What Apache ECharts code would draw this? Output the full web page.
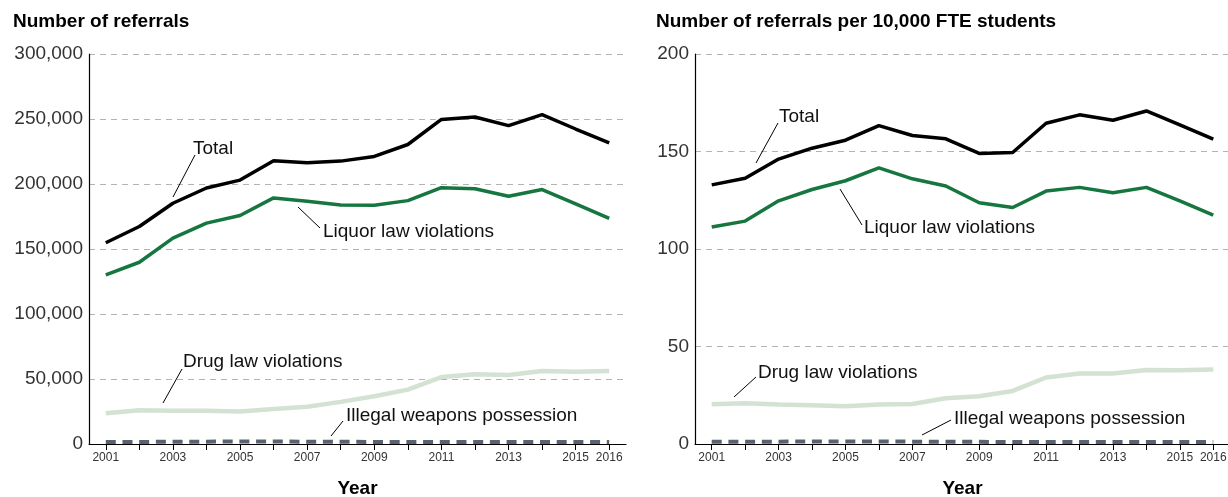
<!DOCTYPE html>
<html>
<head>
<meta charset="utf-8">
<script src="https://cdn.jsdelivr.net/npm/echarts@6/dist/echarts.min.js"></script>
<style>
    html, body { margin: 0; padding: 0; background: #fff; }
    #chart_referrals { width: 1228px; height: 497px; }
</style>
</head>
<body>
<div id="chart_referrals"></div>
<script>
var years = ['2001','2002','2003','2004','2005','2006','2007','2008','2009','2010','2011','2012','2013','2014','2015','2016'];

// 左图：人数
var count_total = [154800, 167300, 185200, 196900, 203000, 217900, 216300, 217600, 221200, 230400, 249700, 251500, 244900, 253300, 242300, 231600];
var count_liquor = [130100, 139800, 158400, 169900, 175800, 189300, 186700, 183900, 183700, 187200, 197200, 196400, 190600, 195700, 184700, 173500];
var count_drug = [23700, 26000, 25500, 25500, 25000, 27000, 28600, 32400, 36700, 41800, 51500, 53600, 53100, 56100, 55600, 56100];
var count_weapons = [1600, 1600, 1700, 1800, 1900, 1900, 1800, 1700, 1600, 1500, 1500, 1500, 1500, 1500, 1500, 1500];

// 右图：每万名学生
var rate_total = [132.9, 136.3, 146.1, 151.7, 155.8, 163.3, 158.2, 156.5, 149.0, 149.5, 164.5, 168.8, 166.0, 170.8, 163.7, 156.3];
var rate_liquor = [111.3, 114.3, 124.7, 130.5, 135.0, 141.6, 136.0, 132.3, 123.7, 121.3, 129.7, 131.6, 128.8, 131.6, 124.7, 117.4];
var rate_drug = [20.4, 20.9, 20.2, 19.9, 19.3, 20.2, 20.5, 23.5, 24.5, 27.2, 34.1, 36.1, 36.1, 38.0, 37.8, 38.2];
var rate_weapons = [1.2, 1.2, 1.2, 1.3, 1.3, 1.3, 1.2, 1.1, 1.1, 1.0, 1.0, 1.0, 1.0, 1.0, 1.0, 1.0];

var FONT = '"Liberation Sans", Arial, sans-serif';

function xAxisFor(idx){
    return {
        gridIndex: idx,
        type: 'category',
        data: years,
        boundaryGap: true,
        name: 'Year',
        nameLocation: 'middle',
        nameGap: 35,
        nameTextStyle: { fontFamily: FONT, fontSize: 19, fontWeight: 'bold', color: '#000' },
        axisLine: { lineStyle: { color: '#000', width: 1.2 } },
        axisTick: { show: true, interval: 0, alignWithLabel: true, length: 6, lineStyle: { color: '#000' } },
        axisLabel: {
            interval: function(i){ return i % 2 === 0 || i === years.length - 1; },
            margin: 8, fontFamily: FONT, fontSize: 12, color: '#333'
        },
        splitLine: { show: false }
    };
}

function yAxisFor(idx, max, interval, fmt){
    return {
        gridIndex: idx,
        type: 'value',
        min: 0, max: max, interval: interval,
        axisLine: { show: true, lineStyle: { color: '#000', width: 1.2 } },
        axisTick: { show: false },
        axisLabel: { margin: 6, fontFamily: FONT, fontSize: 19, color: '#333', formatter: fmt },
        splitLine: { lineStyle: { color: '#b3b3b3', type: [6, 5], width: 1 } }
    };
}

function lineSeries(name, idx, data, color, width, dash){
    return {
        name: name,
        type: 'line',
        xAxisIndex: idx,
        yAxisIndex: idx,
        symbol: 'none',
        data: data,
        lineStyle: { color: color, width: width, type: dash || 'solid', cap: 'butt' },
        z: 3
    };
}

function txt(x, y, s){
    return { type: 'text', x: x, y: y, style: { text: s, fontFamily: FONT, fontSize: 19, fill: '#111', align: 'left', verticalAlign: 'middle' }, z: 10 };
}
function leader(x1, y1, x2, y2){
    return { type: 'line', shape: { x1: x1, y1: y1, x2: x2, y2: y2 }, style: { stroke: '#000', lineWidth: 1 }, z: 10 };
}

var myChart = echarts.init(document.getElementById('chart_referrals'));
var option = {
    animation: false,
    backgroundColor: '#fff',
    title: [
        { text: 'Number of referrals', left: 13, top: 12, padding: 0, textStyle: { fontFamily: FONT, fontSize: 19, fontWeight: 'bold', color: '#000' } },
        { text: 'Number of referrals per 10,000 FTE students', left: 656, top: 12, padding: 0, textStyle: { fontFamily: FONT, fontSize: 19, fontWeight: 'bold', color: '#000' } }
    ],
    grid: [
        { left: 89, top: 54, width: 537, height: 390, outerBoundsMode: 'none', containLabel: false },
        { left: 695, top: 54, width: 535, height: 390, outerBoundsMode: 'none', containLabel: false }
    ],
    xAxis: [xAxisFor(0), xAxisFor(1)],
    yAxis: [
        yAxisFor(0, 300000, 50000, function(v){ return v.toLocaleString('en-US'); }),
        yAxisFor(1, 200, 50, function(v){ return String(v); })
    ],
    series: [
        lineSeries('Drug law violations', 0, count_drug, '#d3e2d2', 4.5),
        lineSeries('Illegal weapons possession', 0, count_weapons, '#5a6270', 4, [10, 6.7]),
        lineSeries('Liquor law violations', 0, count_liquor, '#16763f', 3.5),
        lineSeries('Total', 0, count_total, '#000', 3.5),
        lineSeries('Drug law violations', 1, rate_drug, '#d3e2d2', 4.5),
        lineSeries('Illegal weapons possession', 1, rate_weapons, '#5a6270', 4, [10, 6.7]),
        lineSeries('Liquor law violations', 1, rate_liquor, '#16763f', 3.5),
        lineSeries('Total', 1, rate_total, '#000', 3.5)
    ],
    graphic: [
        // 左图标注
        txt(193, 149, 'Total'), leader(195, 155, 173, 197),
        txt(323, 232, 'Liquor law violations'), leader(320, 228, 298, 207),
        txt(183, 362, 'Drug law violations'), leader(182, 369, 163, 403),
        txt(346, 416, 'Illegal weapons possession'), leader(343, 421, 331, 436),
        // 右图标注
        txt(779, 117, 'Total'), leader(778, 123, 756, 163),
        txt(864, 228, 'Liquor law violations'), leader(862, 225, 840, 189),
        txt(758, 373, 'Drug law violations'), leader(756, 377, 734, 397),
        txt(954, 419, 'Illegal weapons possession'), leader(951, 420, 922, 435)
    ]
};
myChart.setOption(option);
</script>
</body>
</html>
